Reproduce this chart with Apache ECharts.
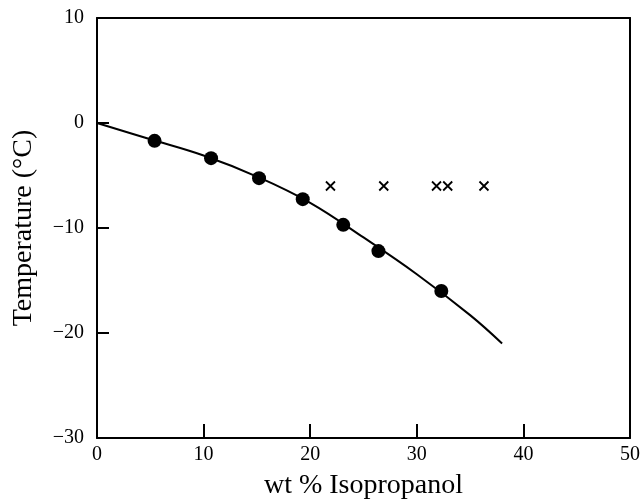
<!DOCTYPE html>
<html><head><meta charset="utf-8">
<script src="https://cdn.jsdelivr.net/npm/echarts@6/dist/echarts.min.js"></script>
<style>html,body{margin:0;padding:0;background:#fff}#c{width:640px;height:500px}</style>
</head><body><div id="c"></div>
<script>
var circlePoints = [[5.4,-1.7],[10.7,-3.35],[15.2,-5.25],[19.3,-7.25],[23.1,-9.7],[26.4,-12.2],[32.3,-16.0]];
var crossPoints = [[21.9,-6.0],[26.9,-6.0],[31.85,-6.0],[32.9,-6.0],[36.3,-6.0]];
var curveX = [0,5,10,15,20,25,30,35,38];
var curveY = [0,-1.55,-3.1,-5.1,-7.6,-10.9,-14.4,-18.3,-21.0];
var xTicks = [0,10,20,30,40,50];
var yTicks = [-30,-20,-10,0,10];

var curve = curveX.map(function(x,i){return [x,curveY[i]];});
var font = 'Liberation Serif';
var chart = echarts.init(document.getElementById('c'));
chart.setOption({
  animation:false,
  grid:{left:97,right:10,top:18,bottom:62,containLabel:false,outerBoundsMode:'none'},
  xAxis:[{type:'value',min:xTicks[0],max:xTicks[xTicks.length-1],interval:10,
    name:'wt % Isopropanol',nameLocation:'middle',nameGap:34,
    nameTextStyle:{fontFamily:font,fontSize:28,color:'#000'},
    axisLine:{onZero:false,lineStyle:{color:'#000',width:2}},
    axisTick:{inside:true,length:14,lineStyle:{color:'#000',width:2}},
    axisLabel:{fontFamily:font,fontSize:20,color:'#000',margin:7},
    splitLine:{show:false}},
   {type:'value',min:0,max:50,position:'top',
    axisLine:{show:true,onZero:false,lineStyle:{color:'#000',width:2}},
    axisTick:{show:false},axisLabel:{show:false},splitLine:{show:false}}],
  yAxis:[{type:'value',min:yTicks[0],max:yTicks[yTicks.length-1],interval:10,
    name:'Temperature (°C)',nameLocation:'middle',nameGap:59,
    nameTextStyle:{fontFamily:font,fontSize:28,color:'#000'},
    axisLine:{onZero:false,lineStyle:{color:'#000',width:2}},
    axisTick:{inside:true,length:12,lineStyle:{color:'#000',width:2}},
    axisLabel:{fontFamily:font,fontSize:20,color:'#000',margin:13,
      formatter:function(v){return String(v).replace('-','\u2212');}},
    splitLine:{show:false}},
   {type:'value',min:-30,max:10,position:'right',
    axisLine:{show:true,onZero:false,lineStyle:{color:'#000',width:2}},
    axisTick:{show:false},axisLabel:{show:false},splitLine:{show:false}}],
  series:[
    {type:'line',data:curve,smooth:0.4,symbol:'none',lineStyle:{color:'#000',width:2},z:2},
    {type:'scatter',data:circlePoints,symbol:'circle',symbolSize:14,itemStyle:{color:'#000',opacity:1},z:3},
    {type:'scatter',data:crossPoints,symbol:'path://M0,0L10,10M10,0L0,10',symbolSize:9,
      itemStyle:{color:'none',borderColor:'#000',borderWidth:1.8,opacity:1},z:3}
  ]
});
</script></body></html>
